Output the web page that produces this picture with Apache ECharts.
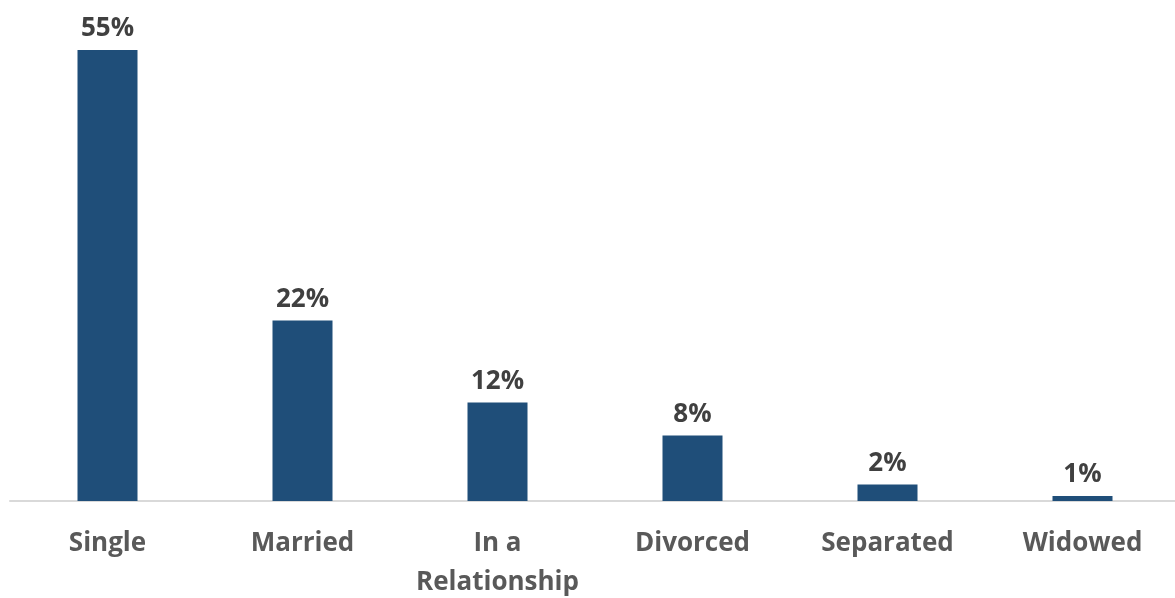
<!DOCTYPE html>
<html>
<head>
<meta charset="utf-8">
<script src="https://cdn.jsdelivr.net/npm/echarts@6/dist/echarts.min.js"></script>
<style>html,body{margin:0;padding:0;background:#fff}#c{width:1175px;height:598px}</style>
</head>
<body>
<div id="c"></div>
<script>
const categories = ['Single', 'Married', 'In a\nRelationship', 'Divorced', 'Separated', 'Widowed'];
const values = [55, 22, 12, 8, 2, 0.6];

const chart = echarts.init(document.getElementById('c'));
chart.setOption({
  animation: false,
  grid: { left: 10, width: 1170, top: 9, bottom: 97, outerBoundsMode: 'none', containLabel: false },
  xAxis: {
    type: 'category',
    data: categories,
    axisLine: { lineStyle: { color: '#d9d9d9', width: 2 } },
    axisTick: { show: false },
    axisLabel: {
      interval: 0, margin: 23, color: '#595959',
      fontFamily: 'Open Sans', fontWeight: 'bold', fontSize: 26, lineHeight: 39
    }
  },
  yAxis: { type: 'value', min: 0, max: 60, show: false, splitLine: { show: false } },
  series: [{
    type: 'bar',
    data: values,
    barWidth: 60,
    itemStyle: { color: '#1f4e79' },
    label: {
      show: true, position: 'top', distance: 8, color: '#404040',
      fontFamily: 'Open Sans', fontWeight: 'bold', fontSize: 26,
      formatter: p => Math.round(p.value) + '%'
    }
  }]
});
</script>
</body>
</html>
